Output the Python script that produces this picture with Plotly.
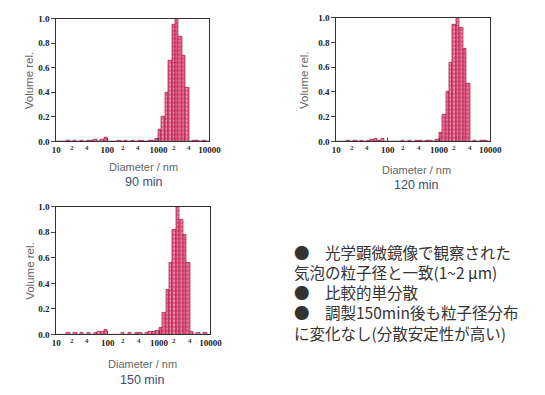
import numpy as np
import plotly.graph_objects as go

# ---------------- data ----------------
# log-spaced size bins: 15 bins per decade from 10 nm to 10000 nm (45 bins)
bin_log_start = 1.0
bins_per_decade = 15
n_bins = 45

vol_90 = [0, 0, 0, 0.01, 0, 0.01, 0, 0.01, 0, 0.01,
          0.01, 0.015, 0, 0.015, 0.035, 0, 0, 0, 0.01, 0,
          0.01, 0, 0.01, 0, 0.01, 0.01, 0, 0.01, 0.01, 0.02,
          0.10, 0.20, 0.40, 0.66, 0.95, 1.00, 0.85, 0.70, 0.44, 0,
          0.01, 0.01, 0, 0.01, 0]
vol_120 = [0, 0, 0, 0.01, 0, 0.01, 0, 0.01, 0, 0.01,
           0.015, 0.02, 0.01, 0.02, 0, 0, 0, 0, 0, 0.01,
           0, 0.01, 0, 0.01, 0.01, 0, 0.01, 0.01, 0, 0.015,
           0.07, 0.22, 0.40, 0.64, 0.94, 1.00, 0.92, 0.75, 0.47, 0,
           0.01, 0, 0.01, 0.01, 0]
vol_150 = [0, 0, 0, 0.01, 0, 0.01, 0, 0.01, 0, 0.01,
           0, 0.01, 0.02, 0.02, 0.035, 0, 0, 0, 0, 0.01,
           0, 0.01, 0, 0.01, 0.01, 0, 0.01, 0.02, 0.02, 0.03,
           0.05, 0.17, 0.35, 0.56, 0.82, 1.00, 0.90, 0.78, 0.56, 0.02,
           0, 0.01, 0, 0.015, 0]

series = [vol_90, vol_120, vol_150]
panel_titles = ["90 min", "120 min", "150 min"]

major_tickvals = [10, 100, 1000, 10000]
major_ticktext = ["10", "100", "1000", "10000"]
minor_tickvals = [20, 40, 200, 400, 2000, 4000]
minor_ticktext = ["2", "4", "2", "4", "2", "4"]
y_tickvals = [0.0, 0.2, 0.4, 0.6, 0.8, 1.0]

notes = [
    "●　光学顕微鏡像で観察された",
    "気泡の粒子径と一致(1~2 μm)",
    "●　比較的単分散",
    "●　調製150min後も粒子径分布",
    "に変化なし(分散安定性が高い)",
]

# ---------------- layout geometry ----------------
W, H = 545, 395
# panel frames in pixels: (x0, x1, ytop, ybottom)
frames = [(53, 211, 14, 140), (342, 501, 13, 140), (53, 212, 207, 338)]
xlab_pos = [(143, 166, 182), (425, 169, 185), (142, 368, 385)]  # x, y(Diameter), y(min)
ylab_x = [25, 308, 25]

def px(x):
    return x / W

def py(y):
    return 1 - y / H

edges_log = bin_log_start + np.arange(n_bins + 1) / bins_per_decade
edges = 10 ** edges_log
left = edges[:-1]
right = edges[1:]
centers = np.sqrt(left * right)

fig = go.Figure()
annotations = []
layout_axes = {}

serif = "Liberation Serif"
sans = "Liberation Sans"

for i, vals in enumerate(series):
    idx = "" if i == 0 else str(i + 1)
    xa, ya = "x" + idx, "y" + idx
    fig.add_trace(go.Bar(
        x=centers, y=vals,
        offset=left - centers, width=right - left,
        xaxis=xa, yaxis=ya,
        marker=dict(color="#e0507c",
                    line=dict(color="#9c1c44", width=0.7),
                    pattern=dict(shape=".", fgcolor="#ffe4ec", size=4, solidity=0.3)),
        showlegend=False,
    ))
    x0, x1, yt, yb = frames[i]
    layout_axes["xaxis" + idx] = dict(
        type="log", range=[1, 4], domain=[px(x0), px(x1)], anchor=ya,
        tickvals=major_tickvals,
        ticktext=["<b>%s</b>" % t for t in major_ticktext],
        tickfont=dict(family=serif, size=9, color="#222"),
        ticks="inside", ticklen=3, tickcolor="#444",
        showline=True, mirror=True, linecolor="#333", linewidth=1,
        showgrid=False, zeroline=False, fixedrange=True,
    )
    layout_axes["yaxis" + idx] = dict(
        range=[0, 1.0], domain=[py(yb), py(yt)], anchor=xa,
        tickvals=y_tickvals,
        ticktext=["<b>%.1f</b>" % v for v in y_tickvals],
        tickfont=dict(family=serif, size=9, color="#222"),
        ticks="outside", ticklen=4, tickcolor="#444",
        showline=True, mirror=True, linecolor="#333", linewidth=1,
        showgrid=False, zeroline=False, fixedrange=True,
    )
    for tv, tt in zip(minor_tickvals, minor_ticktext):
        annotations.append(dict(
            x=np.log10(tv), y=0, xref=xa, yref=ya + " domain",
            text="<b>%s</b>" % tt, showarrow=False,
            xanchor="center", yanchor="top", yshift=-1,
            font=dict(family=serif, size=7, color="#333"),
        ))
    cx, ydia, ymin = xlab_pos[i]
    annotations.append(dict(x=px(cx), y=py(ydia), xref="paper", yref="paper",
                            text="Diameter / nm", showarrow=False,
                            xanchor="center", yanchor="middle",
                            font=dict(family=sans, size=11, color="#666")))
    annotations.append(dict(x=px(cx), y=py(ymin), xref="paper", yref="paper",
                            text=panel_titles[i], showarrow=False,
                            xanchor="center", yanchor="middle",
                            font=dict(family=sans, size=12.5, color="#3d4d75")))
    annotations.append(dict(x=px(ylab_x[i]), y=py((yt + yb) / 2), xref="paper", yref="paper",
                            text="Volume rel.", showarrow=False, textangle=-90,
                            xanchor="center", yanchor="middle",
                            font=dict(family=sans, size=11.5, color="#666")))

# notes text block (one multi-line text)
cjk = "Noto Sans CJK JP"
annotations.append(dict(x=px(296), y=py(295), xref="paper", yref="paper",
                        text="<br>".join(notes), showarrow=False,
                        xanchor="left", yanchor="middle", align="left",
                        font=dict(family=cjk, size=15.5, color="#333")))

fig.update_layout(
    width=W, height=H, margin=dict(l=0, r=0, t=0, b=0),
    paper_bgcolor="white", plot_bgcolor="white",
    bargap=0, annotations=annotations, **layout_axes,
)

fig.write_html("out.html", config={"displayModeBar": False})
